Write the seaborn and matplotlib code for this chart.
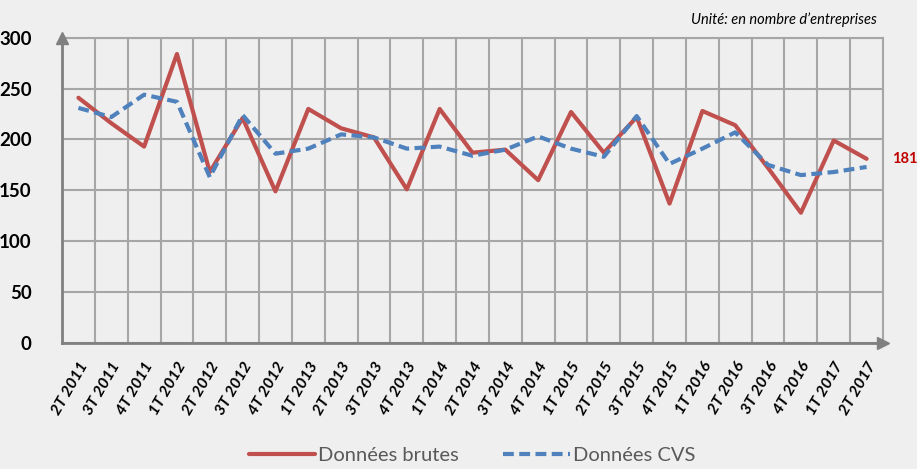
import matplotlib
matplotlib.use("Agg")
import matplotlib.pyplot as plt
import seaborn as sns
import pandas as pd
import numpy as np
from matplotlib.lines import Line2D

# ---- data ----
quarters = ["2T 2011", "3T 2011", "4T 2011", "1T 2012", "2T 2012", "3T 2012", "4T 2012",
            "1T 2013", "2T 2013", "3T 2013", "4T 2013", "1T 2014", "2T 2014", "3T 2014",
            "4T 2014", "1T 2015", "2T 2015", "3T 2015", "4T 2015", "1T 2016", "2T 2016",
            "3T 2016", "4T 2016", "1T 2017", "2T 2017"]
brutes = [241, 216, 193, 284, 168, 221, 149, 230, 211, 202, 151, 230, 187, 190,
          160, 227, 187, 222, 137, 228, 214, 172, 128, 199, 181]
cvs = [231, 222, 244, 237, 163, 224, 186, 191, 205, 202, 191, 193, 184, 190,
       203, 191, 183, 223, 176, 191, 207, 175, 165, 168, 173]
yticks = [0, 50, 100, 150, 200, 250, 300]
series_names = ["Données brutes", "Données CVS"]

# ---- styling ----
sns.set_style("white")
plt.rcParams["font.family"] = ["Lato", "DejaVu Sans"]

BG = "#efefef"
RED = "#c0504d"
BLUE = "#4f81bd"
GRID = "#a6a6a6"
AXIS = "#808080"

fig = plt.figure(figsize=(9.17, 4.69), dpi=100, facecolor=BG)
ax = fig.add_axes([62 / 917, 1 - 343 / 469, (883 - 62) / 917, (343 - 37.7) / 469])
ax.set_facecolor(BG)

df = pd.DataFrame({
    "x": list(range(len(quarters))) * 2,
    "value": brutes + cvs,
    "serie": [series_names[0]] * len(quarters) + [series_names[1]] * len(quarters),
})

sns.lineplot(data=df, x="x", y="value", hue="serie", style="serie",
             palette={series_names[0]: RED, series_names[1]: BLUE},
             dashes={series_names[0]: "", series_names[1]: (2.6, 1.3)},
             linewidth=3.0, ax=ax, zorder=3, legend=False)

ax.set_xlim(-0.5, len(quarters) - 0.5)
ax.set_ylim(0, 300)
ax.set_xlabel("")
ax.set_ylabel("")

# grid
ax.set_yticks(yticks)
ax.set_yticklabels([str(v) for v in yticks], fontsize=13.5, fontweight="bold", color="black")
ax.set_xticks(range(len(quarters)))
ax.set_xticklabels(quarters, rotation=60, ha="right", va="top", rotation_mode="anchor",
                   fontsize=11.5, fontweight="bold", fontstyle="italic", color="black")
ax.set_xticks(np.arange(-0.5, len(quarters), 1.0), minor=True)
ax.grid(False)
ax.grid(True, which="minor", axis="x", color=GRID, linewidth=1.5, zorder=1)
ax.grid(True, which="major", axis="y", color=GRID, linewidth=1.5, zorder=1)
ax.tick_params(axis="both", which="both", length=0)
ax.tick_params(axis="y", pad=22)
ax.tick_params(axis="x", pad=12)

for side in ["top", "right"]:
    ax.spines[side].set_color(GRID)
    ax.spines[side].set_linewidth(1.5)
for side in ["left", "bottom"]:
    ax.spines[side].set_color(AXIS)
    ax.spines[side].set_linewidth(2.0)
    ax.spines[side].set_zorder(4)

# arrow heads on axes
ax.plot(0, 1.0, marker="^", markersize=9, color=AXIS, transform=ax.transAxes, clip_on=False, zorder=5)
ax.plot(1.0, 0, marker=">", markersize=9, color=AXIS, transform=ax.transAxes, clip_on=False, zorder=5)

# last value label
ax.annotate(str(brutes[-1]), xy=(len(quarters) - 1, brutes[-1]), xytext=(18, 0),
            textcoords="offset points", ha="left", va="center",
            fontsize=10.5, fontweight="bold", color="#c00000", annotation_clip=False)

# unit text
fig.text(877 / 917, 1 - 20 / 469, "Unité: en nombre d\u2019entreprises", ha="right", va="center",
         fontsize=10.5, fontstyle="italic", color="black")

# legend
handles = [Line2D([], [], color=RED, linewidth=3.0),
           Line2D([], [], color=BLUE, linewidth=3.0, linestyle=(0, (2.6, 1.3)))]
fig.legend(handles, series_names, loc="center", bbox_to_anchor=(472 / 917, 1 - 455 / 469),
           ncol=2, frameon=False, fontsize=14.5, handlelength=3.3, handletextpad=0.15,
           columnspacing=2.2, labelcolor="#595959", borderpad=0.1)

fig.savefig("out.png", dpi=100, facecolor=BG)
